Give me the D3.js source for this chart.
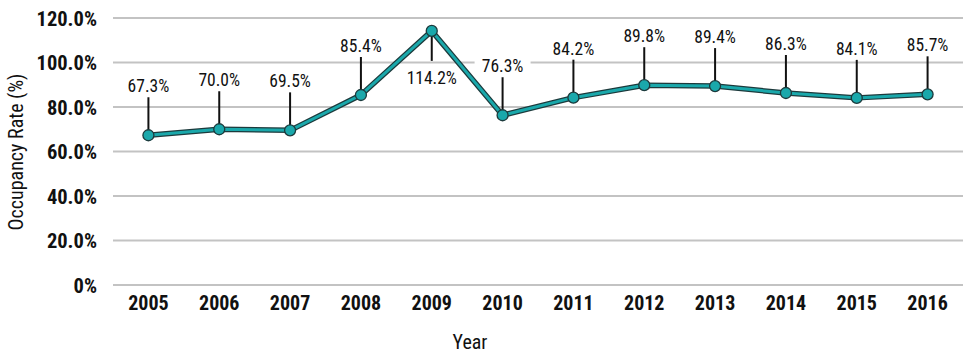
<!DOCTYPE html>
<html><head><meta charset="utf-8">
<script src="https://cdn.jsdelivr.net/npm/d3@7/dist/d3.min.js"></script>
<style>body{margin:0;background:#fff}svg{display:block}</style>
</head><body><svg id="c" width="976" height="360"></svg>
<script>
const years = ["2005","2006","2007","2008","2009","2010","2011","2012","2013","2014","2015","2016"];
const occupancy = [67.3,70.0,69.5,85.4,114.2,76.3,84.2,89.8,89.4,86.3,84.1,85.7];
const yTicks = [0,20,40,60,80,100,120];
const labelBelow = ["2009"];

const font = "'Liberation Sans Narrow','Arial Narrow','Roboto Condensed',sans-serif";
const svg = d3.select("#c");
const x = d3.scaleBand().domain(years).range([113,963]);
const y = d3.scaleLinear().domain([0,120]).range([285,18]);
const cx = d => x(d) + x.bandwidth()/2;

// grid
svg.append("g").selectAll("line").data(yTicks).join("line")
  .attr("x1",113).attr("x2",963).attr("y1",d=>y(d)).attr("y2",d=>y(d))
  .attr("stroke","#c3c3c3").attr("stroke-width",2);

// y axis labels
const yAxis = d3.axisLeft(y).tickValues(yTicks).tickSize(0).tickPadding(0)
  .tickFormat(d => d===0 ? "0%" : d3.format(".1f")(d)+"%");
svg.append("g").attr("transform","translate(97,0)").call(yAxis)
  .call(g=>g.select(".domain").remove())
  .selectAll("text").attr("font-family",font).attr("font-weight","bold")
  .attr("font-size",20.5).attr("fill","#111").attr("dy","0.35em");

// x axis labels
const xAxis = d3.axisBottom(x).tickSize(0).tickPadding(0);
svg.append("g").attr("transform","translate(0,296)").call(xAxis)
  .call(g=>g.select(".domain").remove())
  .selectAll("text").attr("font-family",font).attr("font-weight","bold")
  .attr("font-size",20).attr("fill","#111").attr("dy","0.71em");

// titles
svg.append("text").attr("x",470).attr("y",349).attr("text-anchor","middle")
  .attr("font-family",font).attr("font-size",20).attr("fill","#111").text("Year");
svg.append("text").attr("transform","translate(23,152) rotate(-90)").attr("text-anchor","middle")
  .attr("font-family",font).attr("font-size",20).attr("fill","#111").text("Occupancy Rate (%)");

const data = years.map((yr,i)=>({yr, v:occupancy[i], below: labelBelow.includes(yr)}));

// leader lines
const lead = 38;
svg.append("g").selectAll("line").data(data).join("line")
  .attr("x1",d=>cx(d.yr)).attr("x2",d=>cx(d.yr))
  .attr("y1",d=>y(d.v)).attr("y2",d=>d.below ? y(d.v)+30 : y(d.v)-lead)
  .attr("stroke","#111").attr("stroke-width",2);

// labels with white background
const lab = svg.append("g").selectAll("g").data(data).join("g")
  .attr("transform",d=>`translate(${cx(d.yr)},${d.below ? y(d.v)+47 : y(d.v)-lead-11})`);
lab.append("rect").attr("x",-28).attr("y",-10).attr("width",56).attr("height",20).attr("fill","#fff");
lab.append("text").attr("text-anchor","middle").attr("dy","0.35em")
  .attr("font-family",font).attr("font-size",17.5).attr("fill","#111")
  .text(d=>d3.format(".1f")(d.v)+"%");

// line
const line = d3.line().x(d=>cx(d.yr)).y(d=>y(d.v));
svg.append("path").datum(data).attr("d",line).attr("fill","none")
  .attr("stroke","#1c3a3c").attr("stroke-width",5.5).attr("stroke-linejoin","round");
svg.append("path").datum(data).attr("d",line).attr("fill","none")
  .attr("stroke","#1aa8ab").attr("stroke-width",3).attr("stroke-linejoin","round");

// markers
svg.append("g").selectAll("circle").data(data).join("circle")
  .attr("cx",d=>cx(d.yr)).attr("cy",d=>y(d.v)).attr("r",5.5)
  .attr("fill","#1aa8ab").attr("stroke","#1c3a3c").attr("stroke-width",1.3);
</script></body></html>
